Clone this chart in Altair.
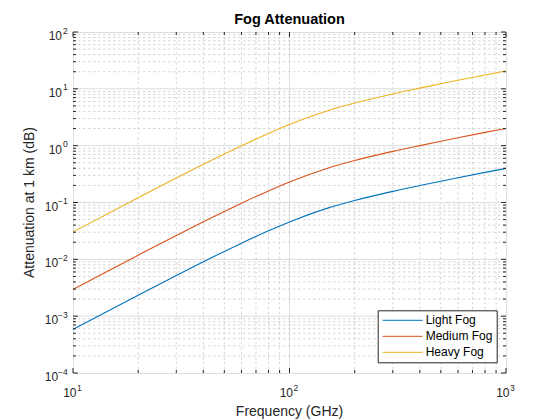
import altair as alt
import pandas as pd

# ---- data ----
freq = [10, 20, 30, 40, 50, 60, 80, 100, 150, 200, 300, 400, 500, 600, 800, 1000]
light = [5.85e-4, 2.343e-3, 5.213e-3, 9.078e-3, 1.380e-2, 1.923e-2, 3.170e-2, 4.550e-2,
         7.961e-2, 0.1086, 0.1570, 0.1986, 0.2371, 0.2730, 0.3389, 0.3982]
medium = [2.956e-3, 1.183e-2, 2.632e-2, 4.584e-2, 6.971e-2, 9.711e-2, 0.1601, 0.2298,
          0.4020, 0.5486, 0.7930, 1.003, 1.197, 1.379, 1.711, 2.011]
heavy = [0.0303, 0.1213, 0.2698, 0.4699, 0.7145, 0.9954, 1.641, 2.355,
         4.121, 5.623, 8.128, 10.28, 12.27, 14.13, 17.54, 20.61]
series_names = ["Light Fog", "Medium Fog", "Heavy Fog"]
series_colors = ["#0072BD", "#D95319", "#EDB120"]

title_text = "Fog Attenuation"
x_title = "Frequency (GHz)"
y_title = "Attenuation at 1 km (dB)"

# tick values / labels
x_major = [10, 100, 1000]
x_exp = [1, 2, 3]
y_major = [1e-4, 1e-3, 1e-2, 1e-1, 1e0, 1e1, 1e2]
y_exp = [-4, -3, -2, -1, 0, 1, 2]
x_minor = [m * 10 ** k for k in (1, 2) for m in range(2, 10)]
y_minor = [m * 10.0 ** k for k in range(-4, 2) for m in range(2, 10)]

W, H = 433, 341
AX = "#262626"
FONT = "Liberation Sans"

df = pd.DataFrame({
    "f": freq * 3,
    "a": light + medium + heavy,
    "series": [series_names[0]] * len(freq) + [series_names[1]] * len(freq) + [series_names[2]] * len(freq),
})

xs = alt.Scale(type="log", domain=[10, 1000], nice=False)
ys = alt.Scale(type="log", domain=[1e-4, 100], nice=False)

xminor_df = pd.DataFrame({"v": x_minor})
yminor_df = pd.DataFrame({"v": y_minor})
xmajor_df = pd.DataFrame({"v": x_major})
ymajor_df = pd.DataFrame({"v": y_major})
xgrid_major_df = pd.DataFrame({"v": x_major[1:-1]})
ygrid_major_df = pd.DataFrame({"v": y_major[1:-1]})


def sup(e):
    return str(e).replace("-", "\u2212")


xlab_df = pd.DataFrame({"v": x_major, "base": ["10"] * 3, "exp": [sup(e) for e in x_exp]})
ylab_df = pd.DataFrame({"v": y_major, "base": ["10"] * 7, "exp": [sup(e) for e in y_exp],
                        "neg": [e < 0 for e in y_exp]})

GRID_MINOR = "#d6d6d6"
GRID_MAJOR = "#dcdcdc"

# grids
gx_minor = alt.Chart(xminor_df).mark_rule(color=GRID_MINOR, strokeDash=[2.5, 2.5], strokeWidth=1).encode(
    x=alt.X("v:Q", scale=xs, axis=None), y=alt.value(0), y2=alt.value(H))
gy_minor = alt.Chart(yminor_df).mark_rule(color=GRID_MINOR, strokeDash=[2.5, 2.5], strokeWidth=1).encode(
    y=alt.Y("v:Q", scale=ys, axis=None), x=alt.value(0), x2=alt.value(W))
gx_major = alt.Chart(xgrid_major_df).mark_rule(color=GRID_MAJOR, strokeWidth=1).encode(
    x=alt.X("v:Q", scale=xs, axis=None), y=alt.value(0), y2=alt.value(H))
gy_major = alt.Chart(ygrid_major_df).mark_rule(color=GRID_MAJOR, strokeWidth=1).encode(
    y=alt.Y("v:Q", scale=ys, axis=None), x=alt.value(0), x2=alt.value(W))

# lines
lines = alt.Chart(df).mark_line(strokeWidth=1.1, interpolate="monotone").encode(
    x=alt.X("f:Q", scale=xs, axis=None),
    y=alt.Y("a:Q", scale=ys, axis=None),
    color=alt.Color("series:N", sort=series_names,
                    scale=alt.Scale(domain=series_names, range=series_colors),
                    legend=alt.Legend(title=None, orient="none", legendX=304.7, legendY=278.3,
                                      symbolType="M-1,0H7", symbolSize=100, symbolStrokeWidth=1,
                                      labelFont=FONT, labelFontSize=12, labelColor="#000000",
                                      labelOffset=32, padding=4, rowPadding=4,
                                      strokeColor=AX, fillColor="white")),
    order=alt.Order("f:Q"),
)


# inward ticks
def xticks(data, length):
    b = alt.Chart(data).mark_rule(color=AX, strokeWidth=1).encode(
        x=alt.X("v:Q", scale=xs, axis=None), y=alt.value(H), y2=alt.value(H - length))
    t = alt.Chart(data).mark_rule(color=AX, strokeWidth=1).encode(
        x=alt.X("v:Q", scale=xs, axis=None), y=alt.value(0), y2=alt.value(length))
    return [b, t]


def yticks(data, length):
    l = alt.Chart(data).mark_rule(color=AX, strokeWidth=1).encode(
        y=alt.Y("v:Q", scale=ys, axis=None), x=alt.value(0), x2=alt.value(length))
    r = alt.Chart(data).mark_rule(color=AX, strokeWidth=1).encode(
        y=alt.Y("v:Q", scale=ys, axis=None), x=alt.value(W), x2=alt.value(W - length))
    return [l, r]


ticks = xticks(xminor_df, 3) + xticks(xmajor_df, 5) + yticks(yminor_df, 3) + yticks(ymajor_df, 5)

# tick labels (10 with superscript exponent)
xl_base = alt.Chart(xlab_df).mark_text(align="right", baseline="alphabetic", dx=3.5, font=FONT,
                                       fontSize=12, color=AX).encode(
    x=alt.X("v:Q", scale=xs, axis=None), y=alt.value(H + 24), text="base:N")
xl_exp = alt.Chart(xlab_df).mark_text(align="left", baseline="alphabetic", dx=4, font=FONT,
                                      fontSize=8.5, color=AX).encode(
    x=alt.X("v:Q", scale=xs, axis=None), y=alt.value(H + 18), text="exp:N")
yl_base_pos = alt.Chart(ylab_df).transform_filter("!datum.neg").mark_text(
    align="right", baseline="alphabetic", dx=-11, dy=8, font=FONT, fontSize=12, color=AX).encode(
    y=alt.Y("v:Q", scale=ys, axis=None), x=alt.value(0), text="base:N")
yl_base_neg = alt.Chart(ylab_df).transform_filter("datum.neg").mark_text(
    align="right", baseline="alphabetic", dx=-14.8, dy=8, font=FONT, fontSize=12, color=AX).encode(
    y=alt.Y("v:Q", scale=ys, axis=None), x=alt.value(0), text="base:N")
yl_exp = alt.Chart(ylab_df).mark_text(
    align="right", baseline="alphabetic", dx=-5.3, dy=1.5, font=FONT, fontSize=8.5, color=AX).encode(
    y=alt.Y("v:Q", scale=ys, axis=None), x=alt.value(0), text="exp:N")

# titles
t_main = alt.Chart(pd.DataFrame({"t": [title_text]})).mark_text(
    align="center", baseline="alphabetic", font=FONT, fontSize=14.5, fontWeight="bold",
    color="#000000").encode(x=alt.value(W / 2), y=alt.value(-7.7), text="t:N")
t_x = alt.Chart(pd.DataFrame({"t": [x_title]})).mark_text(
    align="center", baseline="alphabetic", font=FONT, fontSize=14, color=AX).encode(
    x=alt.value(W / 2), y=alt.value(H + 43), text="t:N")
t_y = alt.Chart(pd.DataFrame({"t": [y_title]})).mark_text(
    align="center", baseline="alphabetic", angle=270, font=FONT, fontSize=14, color=AX).encode(
    x=alt.value(-39.3), y=alt.value(H / 2), text="t:N")

chart = alt.layer(
    gx_minor, gy_minor, gx_major, gy_major, lines, *ticks,
    xl_base, xl_exp, yl_base_pos, yl_base_neg, yl_exp, t_main, t_x, t_y,
).properties(
    width=W, height=H,
    autosize=alt.AutoSizeParams(type="none"),
    padding={"left": 65, "top": 24, "right": 40, "bottom": 47},
).configure_view(stroke=AX, strokeWidth=1).configure(background="white")

chart.save("out.html", embed_options={"renderer": "svg", "actions": False})
